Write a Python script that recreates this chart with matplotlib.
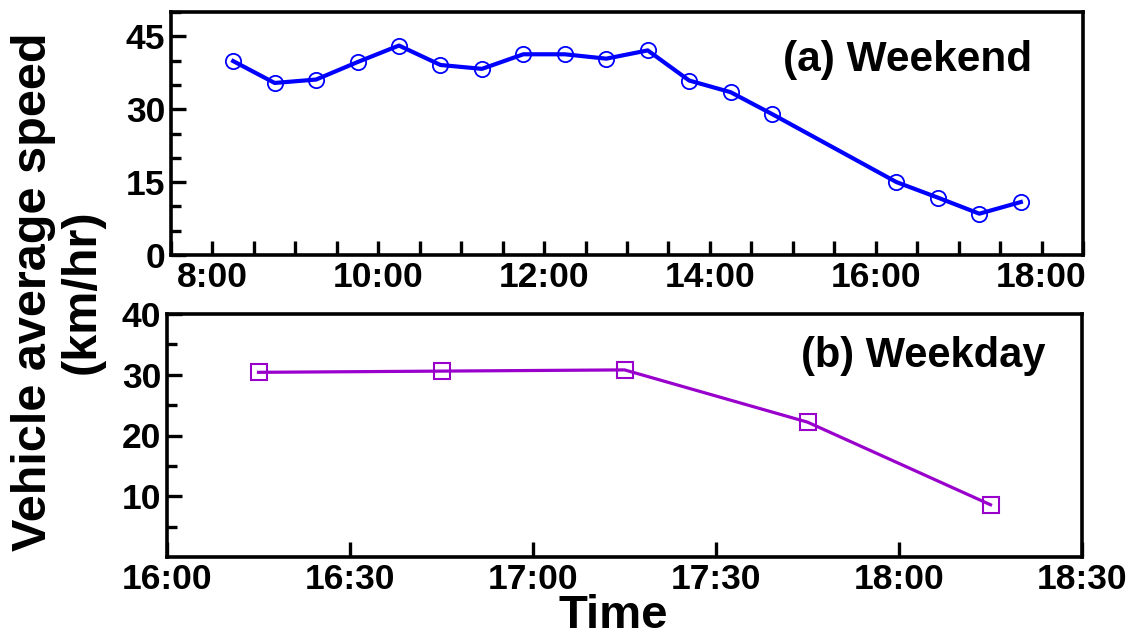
import matplotlib
matplotlib.use("Agg")
import matplotlib.pyplot as plt
from matplotlib.ticker import MultipleLocator, FixedLocator

plt.rcParams['font.family'] = ['Liberation Sans', 'DejaVu Sans']
plt.rcParams['font.weight'] = 'bold'

# ---------------- data ----------------
weekend_times = ["8:15", "8:45", "9:15", "9:45", "10:15", "10:45", "11:15", "11:45",
                 "12:15", "12:45", "13:15", "13:45", "14:15", "14:45",
                 "16:15", "16:45", "17:15", "17:45"]
weekend_speed = [39.9, 35.4, 36.1, 39.7, 43.1, 39.1, 38.3, 41.3,
                 41.3, 40.4, 42.1, 35.9, 33.5, 29.0,
                 15.0, 11.8, 8.5, 10.9]

weekday_times = ["16:15", "16:45", "17:15", "17:45", "18:15"]
weekday_speed = [30.4, 30.6, 30.8, 22.2, 8.6]

top_xtick_labels = ["8:00", "10:00", "12:00", "14:00", "16:00", "18:00"]
top_ytick_labels = ["0", "15", "30", "45"]
bot_xtick_labels = ["16:00", "16:30", "17:00", "17:30", "18:00", "18:30"]
bot_ytick_labels = ["10", "20", "30", "40"]


def to_hours(s):
    h, m = s.split(":")
    return int(h) + int(m) / 60.0


W, H = 1134, 639
fig = plt.figure(figsize=(W / 100, H / 100), dpi=100)

ax1 = fig.add_axes([171 / W, 1 - 255 / H, (1083 - 171) / W, 243 / H])
ax2 = fig.add_axes([167 / W, 1 - 557 / H, (1082 - 167) / W, 243 / H])

TICK_FS = 25.5

# ---------------- top panel ----------------
ax1.plot([to_hours(t) for t in weekend_times], weekend_speed, color='#0000FF',
         lw=3.0, marker='o', ms=11, mfc='none', mec='#0000FF', mew=1.3)
ax1.set_xlim(7.5, 18.5)
ax1.set_ylim(0, 50)
ax1.xaxis.set_major_locator(FixedLocator([to_hours(t) for t in top_xtick_labels]))
ax1.set_xticklabels(top_xtick_labels)
ax1.xaxis.set_minor_locator(MultipleLocator(0.5))
ax1.yaxis.set_major_locator(FixedLocator([float(v) for v in top_ytick_labels]))
ax1.set_yticklabels(top_ytick_labels)
ax1.yaxis.set_minor_locator(MultipleLocator(5))
ax1.text(0.944, 0.757, "(a) Weekend", transform=ax1.transAxes, ha='right',
         va='baseline', fontsize=30.5, fontweight='bold')

# ---------------- bottom panel ----------------
ax2.plot([to_hours(t) for t in weekday_times], weekday_speed, color='#9900CC',
         lw=2.3, marker='s', ms=11.5, mfc='none', mec='#9900CC', mew=1.5)
ax2.set_xlim(16, 18.5)
ax2.set_ylim(0, 40)
ax2.xaxis.set_major_locator(FixedLocator([to_hours(t) for t in bot_xtick_labels]))
ax2.set_xticklabels(bot_xtick_labels)
ax2.yaxis.set_major_locator(FixedLocator([float(v) for v in bot_ytick_labels]))
ax2.set_yticklabels(bot_ytick_labels)
ax2.yaxis.set_minor_locator(FixedLocator([5, 15, 25, 35]))
ax2.text(0.96, 0.782, "(b) Weekday", transform=ax2.transAxes, ha='right',
         va='baseline', fontsize=30, fontweight='bold')

for ax in (ax1, ax2):
    for sp in ax.spines.values():
        sp.set_linewidth(2.6)
    ax.tick_params(axis='both', which='both', direction='in', width=2.4,
                   labelsize=TICK_FS, pad=4, top=False, right=False)
    ax.tick_params(axis='y', which='major', length=11)
    ax.tick_params(axis='y', which='minor', length=7)
    for lab in ax.get_xticklabels() + ax.get_yticklabels():
        lab.set_fontweight('bold')

ax1.tick_params(axis='x', which='both', length=10)
ax2.tick_params(axis='x', which='major', length=11)

# shared labels
fig.text(58 / W, 1 - 292 / H, "Vehicle average speed\n(km/hr)", rotation=90,
         ha='center', va='center', multialignment='center', fontsize=35,
         fontweight='bold', linespacing=1.1)
fig.text(613 / W, 1 - 628 / H, "Time", ha='center', va='baseline',
         fontsize=34, fontweight='bold')

fig.savefig("out.png", dpi=100)
